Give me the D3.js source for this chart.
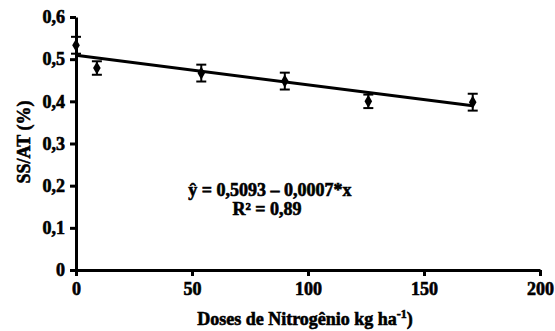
<!DOCTYPE html>
<html><head><meta charset="utf-8">
<script src="https://cdn.jsdelivr.net/npm/d3@7"></script>
<style>body{margin:0;background:#fff}svg{display:block}svg text{font-family:"Liberation Serif","DejaVu Serif","Times New Roman",serif !important;font-weight:bold;fill:#000;stroke:#000;stroke-width:0.6px}</style>
</head><body><svg id="c" width="555" height="331"></svg>
<script>
const doses = [0, 9, 54, 90, 126, 171];
const values = [0.533, 0.479, 0.467, 0.448, 0.400, 0.398];
const errors = [0.020, 0.016, 0.020, 0.020, 0.016, 0.020];
const xTicks = [0, 50, 100, 150, 200];
const yTicks = [0, 0.1, 0.2, 0.3, 0.4, 0.5, 0.6];
const intercept = 0.5093, slope = -0.0007;

const svg = d3.select("#c");
const x = d3.scaleLinear().domain([0, 200]).range([76, 540]);
const y = d3.scaleLinear().domain([0, 0.6]).range([270, 17]);
const fmt = d => String(d).replace(".", ",");

const ya = svg.append("g").attr("transform", "translate(76,0)")
  .call(d3.axisLeft(y).tickValues(yTicks).tickFormat(fmt).tickSize(6).tickSizeOuter(0));
const xa = svg.append("g").attr("transform", "translate(0,270)")
  .call(d3.axisBottom(x).tickValues(xTicks).tickFormat(fmt).tickSize(6).tickSizeOuter(0));
[ya, xa].forEach(a => {
  a.attr("font-family", null);
  a.select(".domain").attr("stroke", "#000").attr("stroke-width", 3);
  a.selectAll(".tick line").attr("stroke", "#000").attr("stroke-width", 3);
  a.selectAll(".tick text").style("font-size", "18px");
});
ya.selectAll(".tick text").attr("x", -11).attr("dy", "0.32em");
xa.selectAll(".tick text").attr("y", 12);

// regression line
svg.append("line")
  .attr("x1", x(0)).attr("y1", y(intercept))
  .attr("x2", x(171)).attr("y2", y(intercept + slope * 171))
  .attr("stroke", "#000").attr("stroke-width", 3);

// error bars
const g = svg.append("g");
doses.forEach((d, i) => {
  const cx = x(d);
  g.append("line").attr("x1", cx).attr("x2", cx).attr("y1", y(values[i] + errors[i])).attr("y2", y(values[i] - errors[i])).attr("stroke", "#000").attr("stroke-width", 2);
  [values[i] + errors[i], values[i] - errors[i]].forEach(v => {
    g.append("line").attr("x1", cx - 5).attr("x2", cx + 5).attr("y1", y(v)).attr("y2", y(v)).attr("stroke", "#000").attr("stroke-width", 2);
  });
  g.append("path").attr("d", d3.symbol(d3.symbolDiamond, 50)()).attr("transform", `translate(${cx},${y(values[i])})`).attr("fill", "#000");
});

svg.append("text").attr("x", 270).attr("y", 196).attr("text-anchor", "middle").style("font-size", "18px").text("ŷ = 0,5093 – 0,0007*x");
svg.append("text").attr("x", 267).attr("y", 215).attr("text-anchor", "middle").style("font-size", "18px").text("R² = 0,89");

svg.append("text").attr("transform", "translate(30,142) rotate(-90)").attr("text-anchor", "middle").style("font-size", "18px").text("SS/AT (%)");
const xl = svg.append("text").attr("x", 305).attr("y", 325).attr("text-anchor", "middle").style("font-size", "18px");
xl.append("tspan").text("Doses de Nitrogênio kg ha");
xl.append("tspan").attr("dy", -7).style("font-size", "12px").text("-1");
xl.append("tspan").attr("dy", 7).text(")");
</script></body></html>
